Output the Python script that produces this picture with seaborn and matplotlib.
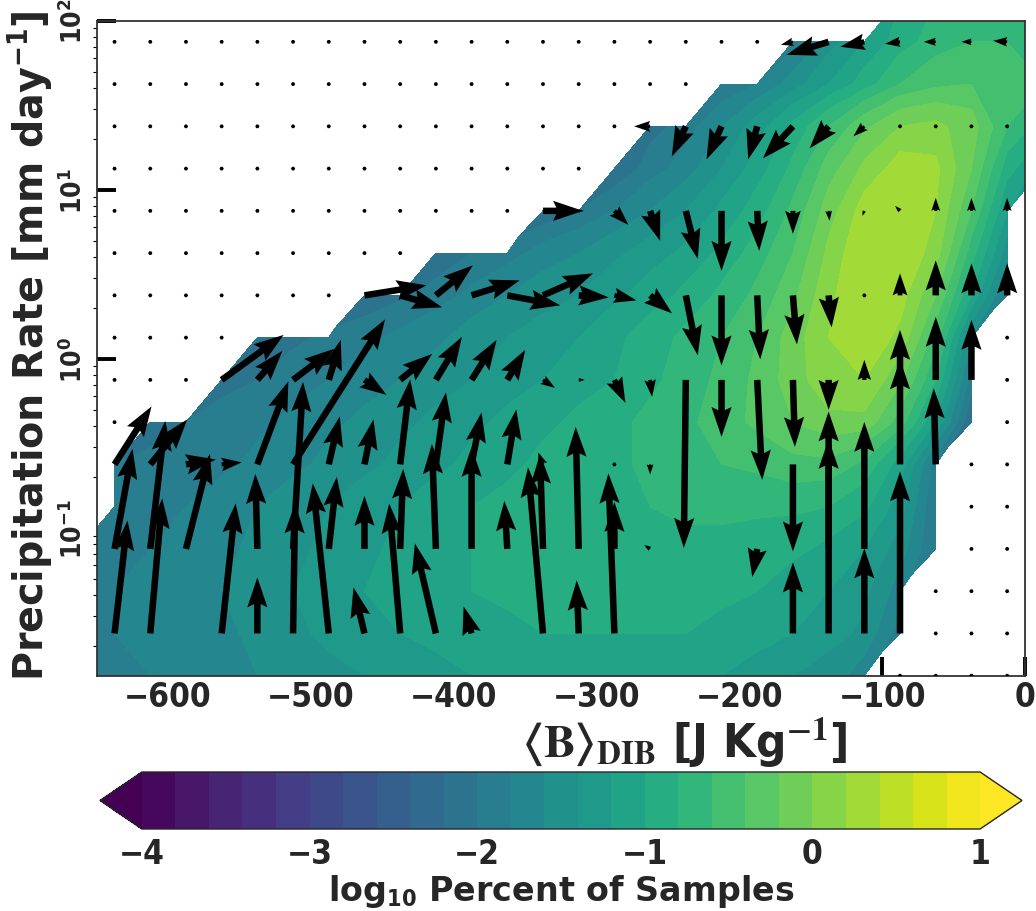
import numpy as np
import matplotlib
matplotlib.use("Agg")
import matplotlib.pyplot as plt
import seaborn as sns
from matplotlib import font_manager as fm
from matplotlib.ticker import LogLocator, NullFormatter

# ---------------- data ----------------
b_centres = np.arange(-662.5, 13.0, 25.0)          # 28 bin centres (first/last just outside the axes)
logp_rows = np.arange(-1.875, 2.2, 0.25)            # 17 log10 precipitation bin centres

# density field: first valid column index (-1 .. 26) of each row, then its values
dens_first_col = [-1, -1, -1, -1, 0, 0, 1, 3, 4, 7, 9, 12, 14, 15, 17, 19, 22]
dens_r00 = [-1.9, -1.85, -1.8, -1.75, -1.7, -1.6, -1.5, -1.45, -1.4, -1.3, -1.25, -1.2, -1.15, -1.15, -1.15, -1.15, -1.15, -1.15, -1.2, -1.3, -1.4, -1.5, -1.7]
dens_r01 = [-1.85, -1.8, -1.75, -1.7, -1.65, -1.55, -1.45, -1.35, -1.25, -1.2, -1.15, -1.1, -1.05, -1.0, -1.0, -1.0, -1.0, -1.0, -1.05, -1.1, -1.2, -1.3, -1.45, -1.9]
dens_r02 = [-1.85, -1.8, -1.75, -1.7, -1.6, -1.5, -1.4, -1.3, -1.2, -1.1, -1.05, -1.0, -0.95, -0.9, -0.9, -0.9, -0.9, -0.9, -0.95, -1.0, -1.1, -1.2, -1.35, -1.7]
dens_r03 = [-1.9, -1.85, -1.8, -1.7, -1.65, -1.55, -1.45, -1.35, -1.25, -1.15, -1.05, -1.0, -0.95, -0.9, -0.85, -0.85, -0.85, -0.85, -0.85, -0.9, -0.95, -1.05, -1.2, -1.5, -2.0]
dens_r04 = [-1.9, -1.85, -1.8, -1.7, -1.6, -1.5, -1.4, -1.3, -1.2, -1.1, -1.0, -0.95, -0.9, -0.85, -0.8, -0.8, -0.75, -0.75, -0.75, -0.75, -0.8, -0.95, -1.3, -2.0]
dens_r05 = [-2.0, -1.95, -1.9, -1.85, -1.75, -1.65, -1.55, -1.45, -1.35, -1.25, -1.15, -1.05, -0.95, -0.9, -0.85, -0.75, -0.7, -0.6, -0.55, -0.45, -0.45, -0.65, -1.1, -1.9]
dens_r06 = [-2.1, -2.0, -1.9, -1.85, -1.75, -1.65, -1.55, -1.45, -1.35, -1.25, -1.15, -1.05, -0.95, -0.85, -0.75, -0.65, -0.5, -0.35, -0.2, -0.05, -0.05, -0.5, -1.2, -2.2]
dens_r07 = [-2.1, -2.0, -1.9, -1.8, -1.7, -1.6, -1.5, -1.4, -1.3, -1.2, -1.1, -1.0, -0.85, -0.7, -0.55, -0.35, -0.1, 0.15, 0.2, -0.15, -0.8, -1.9]
dens_r08 = [-2.2, -2.05, -1.95, -1.85, -1.75, -1.65, -1.5, -1.4, -1.3, -1.2, -1.05, -0.9, -0.75, -0.6, -0.4, -0.1, 0.2, 0.35, 0.15, -0.5, -1.6]
dens_r09 = [-2.2, -2.05, -1.9, -1.75, -1.6, -1.5, -1.4, -1.25, -1.1, -0.95, -0.75, -0.55, -0.25, 0.15, 0.4, 0.3, -0.2, -1.0, -1.9]
dens_r10 = [-2.2, -2.0, -1.9, -1.7, -1.6, -1.45, -1.3, -1.15, -0.95, -0.7, -0.4, 0.05, 0.4, 0.4, 0.1, -0.7, -1.5]
dens_r11 = [-2.2, -2.0, -1.8, -1.6, -1.4, -1.15, -0.9, -0.55, -0.1, 0.3, 0.4, 0.2, -0.4, -1.2]
dens_r12 = [-2.2, -1.9, -1.7, -1.4, -1.1, -0.75, -0.3, 0.05, 0.3, 0.25, -0.2, -0.9, -1.3]
dens_r13 = [-2.1, -1.9, -1.6, -1.3, -0.95, -0.6, -0.25, 0.0, 0.05, -0.1, -0.6, -0.9]
dens_r14 = [-2.0, -1.8, -1.5, -1.2, -0.9, -0.6, -0.45, -0.4, -0.5, -0.6]
dens_r15 = [-1.9, -1.5, -1.2, -0.9, -0.7, -0.6, -0.6, -0.7]
dens_r16 = [-1.0, -0.8, -0.7, -0.75, -0.85]
dens_rows = [dens_r00, dens_r01, dens_r02, dens_r03, dens_r04, dens_r05, dens_r06, dens_r07,
             dens_r08, dens_r09, dens_r10, dens_r11, dens_r12, dens_r13, dens_r14, dens_r15, dens_r16]

# tendency arrows (display pixels, +v = up) on odd rows, columns 0..25; None = no arrow
arrow_rows = [1, 3, 5, 7, 9, 11, 13, 15]
u_r01 = [13, 12, None, 14, 0, 2, -16, -11, -11, -21, -8, None, -15, -2, -6, None, None, None, None, 0, 0, 0, 0, 0, 0, 0]
v_r01 = [113, 135, None, 130, 56, 130, 150, 46, 130, 90, 27, None, 166, 53, 160, None, None, None, None, 71, 222, 85, 162, 0, 0, 0]
u_r03 = [18, 15, 24, None, -2, 10, 8, 0, 3, -4, 0, -3, -3, -3, 0, -6, None, None, -5, None, 0, 0, None, None, 0, 0]
v_r03 = [100, 128, 95, None, 75, 167, 72, 53, 80, 105, 102, 48, 95, 122, 47, 4, None, None, -28, None, 110, 127, None, None, 0, 0]
u_r05 = [37, 37, 30, 20, 31, 92, 11, 9, 10, 10, 10, 9, -5, None, 0, 0, None, None, None, 0, None, None, 0, -2, 0, 0]
v_r05 = [58, 45, 5, 2, 83, 145, 48, 45, 85, 72, 52, 55, 12, None, 0, -10, None, None, None, -87, None, None, 105, 76, 0, 0]
u_r07 = [0, 0, 0, 62, 25, 41, 12, 22, 32, 26, 25, 18, 12, 6, 11, 2, -2, 0, 5, 2, 0, 0, 0, 0, 0, 0]
v_r07 = [0, 0, 0, 45, 29, 31, 40, -15, 26, 43, 40, 30, -8, 0, -23, -17, -168, -57, -100, -67, -30, 20, 50, 63, 60, 0]
u_r09 = [0, 0, 0, 0, 0, 0, 0, 62, 42, 37, 48, 53, 50, 30, 22, 22, 12, 0, 3, 4, 3, 0, 0, 0, 0, 0]
v_r09 = [0, 0, 0, 0, 0, 0, 0, 10, -12, 30, 15, -10, 22, -2, -5, -18, -60, -70, -64, -49, -32, 0, 22, 35, 32, 32]
u_r11 = [0, 0, 0, 0, 0, 0, 0, 0, 0, 0, 0, 0, 40, 5, 14, 10, 12, 0, 2, 0, 1, -2, -5, 0, 0, 0]
v_r11 = [0, 0, 0, 0, 0, 0, 0, 0, 0, 0, 0, 0, 0, 0, -14, -30, -48, -60, -40, -23, -10, -5, 5, 13, 13, 13]
u_r13 = [0, 0, 0, 0, 0, 0, 0, 0, 0, 0, 0, 0, 0, 0, 0, -16, -14, -15, -9, -30, -19, -11, 0, 0, 0, -3]
v_r13 = [0, 0, 0, 0, 0, 0, 0, 0, 0, 0, 0, 0, 0, 0, 0, 0, -30, -33, -33, -32, -22, -10, 0, 0, 0, -2]
u_r15 = [0, 0, 0, 0, 0, 0, 0, 0, 0, 0, 0, 0, 0, 0, 0, 0, 0, 0, 0, -12, -42, -24, -15, -12, -10, -14]
v_r15 = [0, 0, 0, 0, 0, 0, 0, 0, 0, 0, 0, 0, 0, 0, 0, 0, 0, 0, 0, -3, -13, -5, -2, 0, 0, 1]
u_rows = [u_r01, u_r03, u_r05, u_r07, u_r09, u_r11, u_r13, u_r15]
v_rows = [v_r01, v_r03, v_r05, v_r07, v_r09, v_r11, v_r13, v_r15]

cbar_ticks = [-4, -3, -2, -1, 0, 1]
x_ticks = [-600, -500, -400, -300, -200, -100, 0]
y_ticks = [0.1, 1, 10, 100]
y_ticklabels = [r"$\mathbf{10^{-1}}$", r"$\mathbf{10^{0}}$", r"$\mathbf{10^{1}}$", r"$\mathbf{10^{2}}$"]

# ---------------- style ----------------
sns.set_theme(style="ticks")
entries = fm.fontManager.ttflist
has_cond = any(e.name == "DejaVu Sans" and "condensed" in str(e.stretch).lower() for e in entries)
has_narrow = any(e.name == "Liberation Sans Narrow" for e in entries)
if has_cond:
    plt.rcParams["font.family"] = ["DejaVu Sans"]
    plt.rcParams["font.stretch"] = "condensed"
    tick_fs = 24
elif has_narrow:
    plt.rcParams["font.family"] = ["Liberation Sans Narrow", "DejaVu Sans"]
    tick_fs = 25
else:
    plt.rcParams["font.family"] = ["DejaVu Sans"]
    tick_fs = 22
plt.rcParams["font.weight"] = "bold"
plt.rcParams["axes.labelweight"] = "bold"
plt.rcParams["mathtext.fontset"] = "dejavusans"

# ---------------- assemble grids ----------------
ncol = len(b_centres)
Z = np.full((len(logp_rows), ncol), np.nan)
for i, (first, vals) in enumerate(zip(dens_first_col, dens_rows)):
    for k, v in enumerate(vals):
        j = first + 1 + k
        if 0 <= j < ncol:
            Z[i, j] = v
Zm = np.ma.masked_invalid(Z)
P = 10.0 ** logp_rows
BB, PP = np.meshgrid(b_centres, P)

qx, qy, qu, qv = [], [], [], []
for r, urow, vrow in zip(arrow_rows, u_rows, v_rows):
    for c in range(26):
        if urow[c] is None or vrow[c] is None:
            continue
        qx.append(b_centres[c + 1]); qy.append(P[r]); qu.append(urow[c]); qv.append(vrow[c])
for r in range(0, 16, 2):
    for c in range(26):
        if np.isnan(Z[r, c + 1]):
            qx.append(b_centres[c + 1]); qy.append(P[r]); qu.append(0.0); qv.append(0.0)

# ---------------- figure ----------------
fig = plt.figure(figsize=(10.36, 9.12), dpi=100)
ax = fig.add_axes([96.7 / 1036, 1 - 676.7 / 912, (1025 - 96.7) / 1036, (676.7 - 21.7) / 912])
cax = fig.add_axes([100 / 1036, 1 - 830 / 912, 922 / 1036, 57 / 912])

cmap = sns.color_palette("viridis", as_cmap=True)
levels = np.arange(-4.0, 1.0 + 1e-9, 0.2)
cf = ax.contourf(BB, PP, Zm, levels=levels, cmap=cmap, extend="both", zorder=1)

ax.quiver(qx, qy, qu, qv, angles="uv", scale_units="dots", scale=1, units="dots",
          width=6.5, headwidth=3.1, headlength=4.6, headaxislength=4.1, minlength=0.65,
          pivot="tail", color="black", zorder=3)

ax.set_yscale("log")
ax.set_xlim(-650, 0)
ax.set_ylim(10 ** -1.875, 100)
ax.set_xticks(x_ticks)
ax.set_yticks(y_ticks)
ax.set_yticklabels(y_ticklabels, rotation=90, va="center", fontsize=19)
ax.yaxis.set_minor_locator(LogLocator(base=10, subs=np.arange(2, 10), numticks=20))
ax.yaxis.set_minor_formatter(NullFormatter())
ax.tick_params(which="major", direction="in", length=14, width=2.8, color="black")
ax.tick_params(axis="x", which="major", labelsize=tick_fs, pad=3)
ax.tick_params(axis="y", which="major", pad=6)
ax.tick_params(axis="y", which="minor", direction="out", length=3, width=0.8, color="black")
ax.tick_params(axis="x", which="minor", bottom=False)
for s in ax.spines.values():
    s.set_linewidth(1.3)
    s.set_color("#333333")

ax.set_ylabel(r"Precipitation Rate [mm day$^{\mathbf{-1}}$]", fontsize=28.5, family="DejaVu Sans",
              fontweight="bold", fontstretch="normal")
ax.yaxis.set_label_coords(-0.045, 0.505)
ax.set_xlabel(r"$\langle \mathbf{B} \rangle_{\mathbf{DIB}}$ [J Kg$^{-1}$]", fontsize=34,
              math_fontfamily="stix")
ax.xaxis.set_label_coords(0.634, -0.06)

cb = fig.colorbar(cf, cax=cax, orientation="horizontal", ticks=cbar_ticks, extendfrac=0.05)
cb.ax.tick_params(direction="in", length=10, width=1.2, labelsize=tick_fs, pad=6, color="black")
cb.outline.set_linewidth(1.0)
cb.set_label(r"log$_{10}$ Percent of Samples", fontsize=24, fontweight="bold",
             fontstretch="normal", labelpad=1)

fig.savefig("out.png", dpi=100)
